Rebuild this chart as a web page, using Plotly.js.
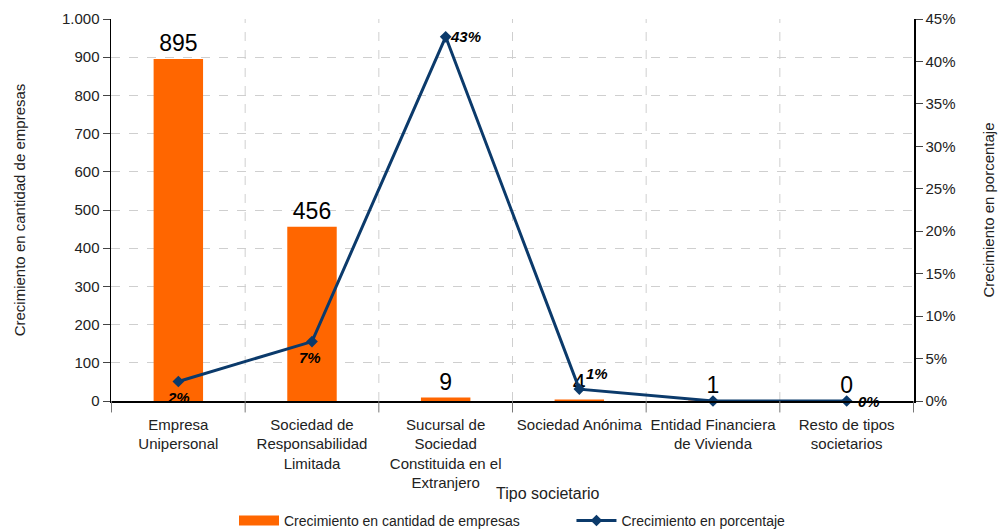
<!DOCTYPE html>
<html><head><meta charset="utf-8">
<script src="https://cdn.plot.ly/plotly-3.0.1.min.js"></script>
<style>body{margin:0;background:#fff}#c{width:1000px;height:531px}</style>
</head><body><div id="c"></div>
<script>
const categories = ["Empresa<br>Unipersonal","Sociedad de<br>Responsabilidad<br>Limitada","Sucursal de<br>Sociedad<br>Constituida en el<br>Extranjero","Sociedad Anónima","Entidad Financiera<br>de Vivienda","Resto de tipos<br>societarios"];
const cantidad = [895, 456, 9, 4, 1, 0];
const porcentaje = [2.3, 7.0, 42.9, 1.4, 0, 0];
const porcentajeLabels = ["2%","7%","43%","1%","","0%"];
const seriesNames = ["Crecimiento en cantidad de empresas", "Crecimiento en porcentaje"];
const xTitle = "Tipo societario";
const FONT = "'Liberation Sans', Arial, sans-serif";
const ORANGE = '#FF6600', NAVY = '#0B3A6B';

// label offsets (pixels) for percent labels: [xshift, yshift]
const pctOffsets = [[0,-16],[-2,-16],[20,0],[18,16],[0,0],[22,0]];

const bars = {
  type: 'bar', x: categories, y: cantidad, name: seriesNames[0], showlegend: false,
  marker: {color: ORANGE}, width: 0.37,
  text: cantidad.map(String), textposition: 'outside', cliponaxis: false,
  textfont: {family: FONT, size: 23, color: '#000'}
};
// legend-only entry so the bar key shows as a wide orange block
const barKey = {
  type: 'scatter', mode: 'lines', x: [null], y: [null],
  name: seriesNames[0] + '\u00a0\u00a0\u00a0\u00a0\u00a0\u00a0\u00a0\u00a0\u00a0\u00a0\u00a0\u00a0',
  line: {color: ORANGE, width: 10}, hoverinfo: 'skip'
};
const line = {
  type: 'scatter', mode: 'lines+markers', x: categories, y: porcentaje, yaxis: 'y2',
  name: seriesNames[1],
  line: {color: NAVY, width: 3}, marker: {symbol: 'diamond', size: 9, color: NAVY},
  cliponaxis: false
};
const annotations = porcentajeLabels.map((t, i) => ({
  x: categories[i], y: porcentaje[i], xref: 'x', yref: 'y2', text: t, showarrow: false,
  xshift: pctOffsets[i][0], yshift: pctOffsets[i][1],
  font: {family: FONT, size: 15, color: '#000', style: 'italic', weight: 'bold'}
}));
annotations.push({
  text: xTitle, xref: 'paper', yref: 'paper', x: 0.544, y: -0.241, showarrow: false,
  xanchor: 'center', yanchor: 'middle', font: {family: FONT, size: 16, color: '#222'}
});
const layout = {
  width: 1000, height: 531,
  margin: {l: 111, r: 86, t: 19, b: 130},
  paper_bgcolor: '#fff', plot_bgcolor: '#fff',
  separators: ',.',
  font: {family: FONT, size: 14, color: '#222'},
  showlegend: true,
  legend: {orientation: 'h', x: 0.5, xanchor: 'center', xref: 'paper', yref: 'container', y: 0.019, yanchor: 'middle',
           font: {size: 14, color: '#222'}, traceorder: 'normal', itemwidth: 40},
  xaxis: {
    showline: true, linecolor: '#000', linewidth: 1.5,
    showgrid: false, ticks: 'outside', ticklen: 9, tickcolor: 'rgba(0,0,0,0)', tickfont: {size: 15},
    automargin: false
  },
  yaxis: {
    title: {text: 'Crecimiento en cantidad de empresas', font: {size: 15}, standoff: 32},
    range: [0, 1000], dtick: 100, tickformat: ',d',
    showline: true, linecolor: '#000', linewidth: 1.5,
    ticks: 'outside', ticklen: 7, tickcolor: '#444',
    showgrid: true, gridcolor: '#cfcfcf', griddash: 'dash', zeroline: false,
    tickfont: {size: 15}, automargin: false
  },
  yaxis2: {
    title: {text: 'Crecimiento en porcentaje', font: {size: 15}, standoff: 29},
    overlaying: 'y', side: 'right', range: [0, 45], dtick: 5, ticksuffix: '%',
    showline: true, linecolor: '#000', linewidth: 1.5,
    ticks: 'outside', ticklen: 7, tickcolor: '#444',
    showgrid: false, zeroline: false, tickfont: {size: 15}, automargin: false
  },
  annotations: annotations,
  shapes: [1,2,3,4,5].map(i => ({type: 'line', xref: 'x', yref: 'paper', x0: i - 0.5, x1: i - 0.5, y0: 0, y1: 1, line: {color: '#cfcfcf', width: 1, dash: 'dash'}, layer: 'below'}))
   .concat([0,1,2,3,4,5,6].map(i => ({type: 'line', xref: 'x', yref: 'paper', x0: i - 0.5, x1: i - 0.5, y0: 0, y1: -0.03, line: {color: '#777', width: 1}})))
};
Plotly.newPlot('c', [bars, barKey, line], layout, {displayModeBar: false, staticPlot: true});
</script></body></html>
